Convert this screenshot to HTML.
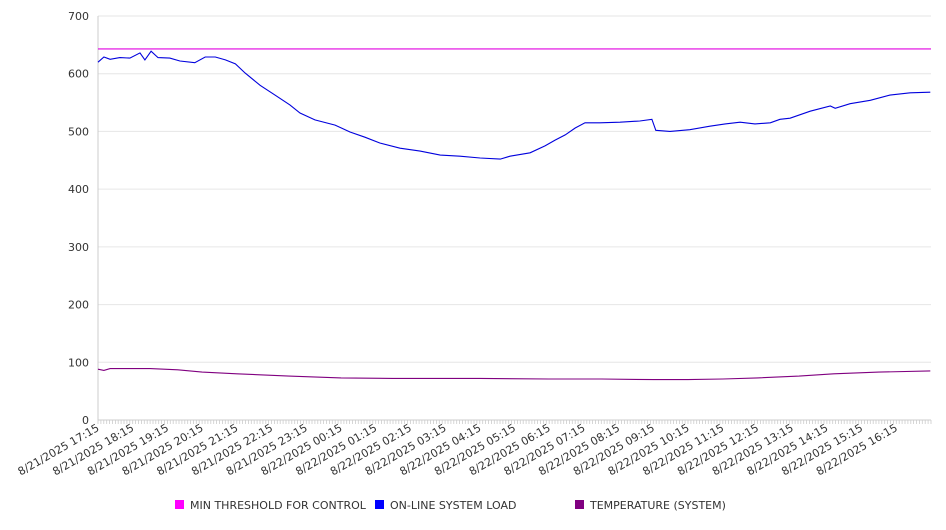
<!DOCTYPE html>
<html><head><meta charset="utf-8"><style>
body{margin:0;background:#fff;font-family:"DejaVu Sans","Liberation Sans",sans-serif;}
svg text{font-family:"DejaVu Sans","Liberation Sans",sans-serif;fill:#333;}
</style></head><body>
<svg id="chart" width="946" height="526" xmlns="http://www.w3.org/2000/svg"></svg>
<script>
const yTicks=[0,100,200,300,400,500,600,700];
const xLabels=["8/21/2025 17:15","8/21/2025 18:15","8/21/2025 19:15","8/21/2025 20:15","8/21/2025 21:15","8/21/2025 22:15","8/21/2025 23:15","8/22/2025 00:15","8/22/2025 01:15","8/22/2025 02:15","8/22/2025 03:15","8/22/2025 04:15","8/22/2025 05:15","8/22/2025 06:15","8/22/2025 07:15","8/22/2025 08:15","8/22/2025 09:15","8/22/2025 10:15","8/22/2025 11:15","8/22/2025 12:15","8/22/2025 13:15","8/22/2025 14:15","8/22/2025 15:15","8/22/2025 16:15"];
const thresholdValue=643;
const loadHours=[0,0.17,0.35,0.63,0.92,1.21,1.35,1.53,1.73,2.07,2.36,2.79,3.09,3.38,3.67,3.96,4.24,4.67,5.1,5.53,5.82,6.25,6.83,7.26,7.69,8.12,8.7,9.28,9.86,10.43,11.01,11.59,11.87,12.45,12.88,13.17,13.46,13.75,14.03,14.46,15.04,15.61,15.96,16.07,16.48,17.05,17.63,18.07,18.5,18.93,19.37,19.65,19.94,20.52,21.1,21.24,21.67,22.25,22.82,23.4,23.98];
const loadValues=[620,629,625,628,627,636,624,639,628,627,622,619,629,629,624,617,601,580,563,546,532,520,511,499,490,480,471,466,459,457,454,452,457,463,475,485,494,506,515,515,516,518,521,502,500,503,509,513,516,513,515,521,523,535,544,540,548,554,563,567,568];
const tempHours=[0,0.17,0.35,1.5,2.3,3,4,5.5,7,8.5,11,13,14.5,16,17,18,19,20.2,21.2,22.5,23.98];
const tempValues=[88,86,89,89,87,83,80,76,73,72,72,71,71,70,70,71,73,76,80,83,85];
const svg=document.getElementById('chart');
const NS='http://www.w3.org/2000/svg';
const X0=98,X1=931,Y0=420,Y1=16;
const xs=h=>X0+h*(X1-X0)/24;
const ys=v=>Y0-v*(Y0-Y1)/700;
function mk(t,a){const e=document.createElementNS(NS,t);for(const k in a)e.setAttribute(k,a[k]);svg.appendChild(e);return e;}
yTicks.forEach(v=>{
 const g=mk('line',{x1:X0,x2:X1,y1:ys(v),y2:ys(v),stroke:v===0?'#ccc':'#e6e6e6','stroke-width':1});
 
 
 const t=mk('text',{x:89,y:ys(v)+4,'text-anchor':'end','font-size':11});
 t.textContent=v;
 
 
});
const ax=mk('line',{x1:X0,x2:X0,y1:Y1,y2:Y0,stroke:'#ccc'});


let d='';for(let i=0;i<=288;i++){const x=(xs(i/12)).toFixed(1);d+=`M${x},${Y0}v4`;}
const mt=mk('path',{d:d,stroke:'#ccc','stroke-width':0.8});


xLabels.forEach((s,i)=>{
 const x=xs(i)+2,y=Y0+10;
 const t=mk('text',{x:x,y:y,'text-anchor':'end','font-size':11,transform:`rotate(-30 ${x} ${y})`});
 t.textContent=s;
 
 
});
function line(hs,vs,col,name){
 const p=mk('polyline',{points:hs.map((h,i)=>xs(h).toFixed(1)+','+ys(vs[i]).toFixed(1)).join(' '),fill:'none',stroke:col,'stroke-width':1.1});
 
 
}
line([0,24],[thresholdValue,thresholdValue],'#e000e0','threshold-line');
line(loadHours,loadValues,'#0000dd','load-line');
line(tempHours,tempValues,'#800080','temperature-line');
[[175,'#ff00ff','MIN THRESHOLD FOR CONTROL'],[375,'#0000ff','ON-LINE SYSTEM LOAD'],[575,'#800080','TEMPERATURE (SYSTEM)']].forEach(([x,c,s])=>{
 const r=mk('rect',{x:x,y:500,width:9,height:9,fill:c});
 
 
 const t=mk('text',{x:x+15,y:509,'font-size':11});
 t.textContent=s;
 
 
});
</script>
</body></html>
